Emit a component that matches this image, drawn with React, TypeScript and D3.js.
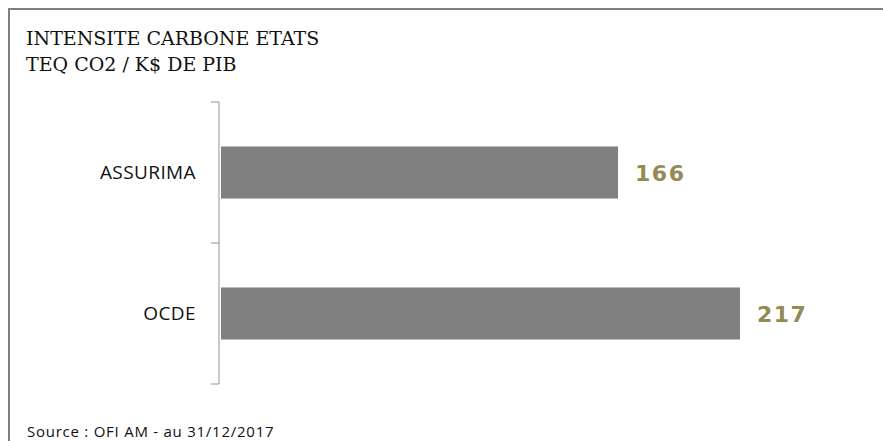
import React from "react";
import * as d3 from "d3";

const categories = ["ASSURIMA", "OCDE"];
const values = [166, 217];
const titleLines = ["INTENSITE CARBONE ETATS", "TEQ CO2 / K$ DE PIB"];
const sourceText = "Source : OFI AM - au 31/12/2017";

export default function App() {
  const W = 883, H = 441;
  const x0 = 221;
  const x = d3.scaleLinear().domain([0, 217]).range([x0, 740]);
  const y = d3.scaleBand().domain(categories).range([102, 384]).paddingInner(0.631).paddingOuter(0.3155);
  const axisX = 219;
  const tickYs = [102, 243, 384];
  return (
    <svg width={W} height={H} style={{ position: "absolute", left: 0, top: 0, background: "#fff" }}>
      <path d={`M9,${H} V9 H${W}`} fill="none" stroke="#7f7f7f" strokeWidth={2} />
      {titleLines.map((t, i) => (
        <text key={i} x={26} y={45 + i * 26} fontFamily="'DejaVu Serif', serif" fontSize={19} fill="#111">{t}</text>
      ))}
      {categories.map((c, i) => (
        <g key={c}>
          <rect x={x(0)} y={y(c)!} width={x(values[i]) - x(0)} height={y.bandwidth()} fill="#808080" />
          <text x={196} y={y(c)! + y.bandwidth() / 2} dy="0.36em" textAnchor="end" fontFamily="'Open Sans', sans-serif" fontSize={19} letterSpacing={0.4} fill="#111">{c}</text>
          <text x={x(values[i]) + 17} y={y(c)! + y.bandwidth() / 2} dy="0.4em" fontFamily="'DejaVu Sans', sans-serif" fontWeight="bold" fontSize={22} letterSpacing={1.5} fill="#948a54">{values[i]}</text>
        </g>
      ))}
      <line x1={axisX} x2={axisX} y1={102} y2={384} stroke="#a6a6a6" strokeWidth={1.2} />
      {tickYs.map((t) => (
        <line key={t} x1={211} x2={axisX} y1={t} y2={t} stroke="#a6a6a6" strokeWidth={1.2} />
      ))}
      <text x={27} y={437} fontFamily="'Open Sans', sans-serif" fontSize={15} letterSpacing={0.75} fill="#111">{sourceText}</text>
    </svg>
  );
}
